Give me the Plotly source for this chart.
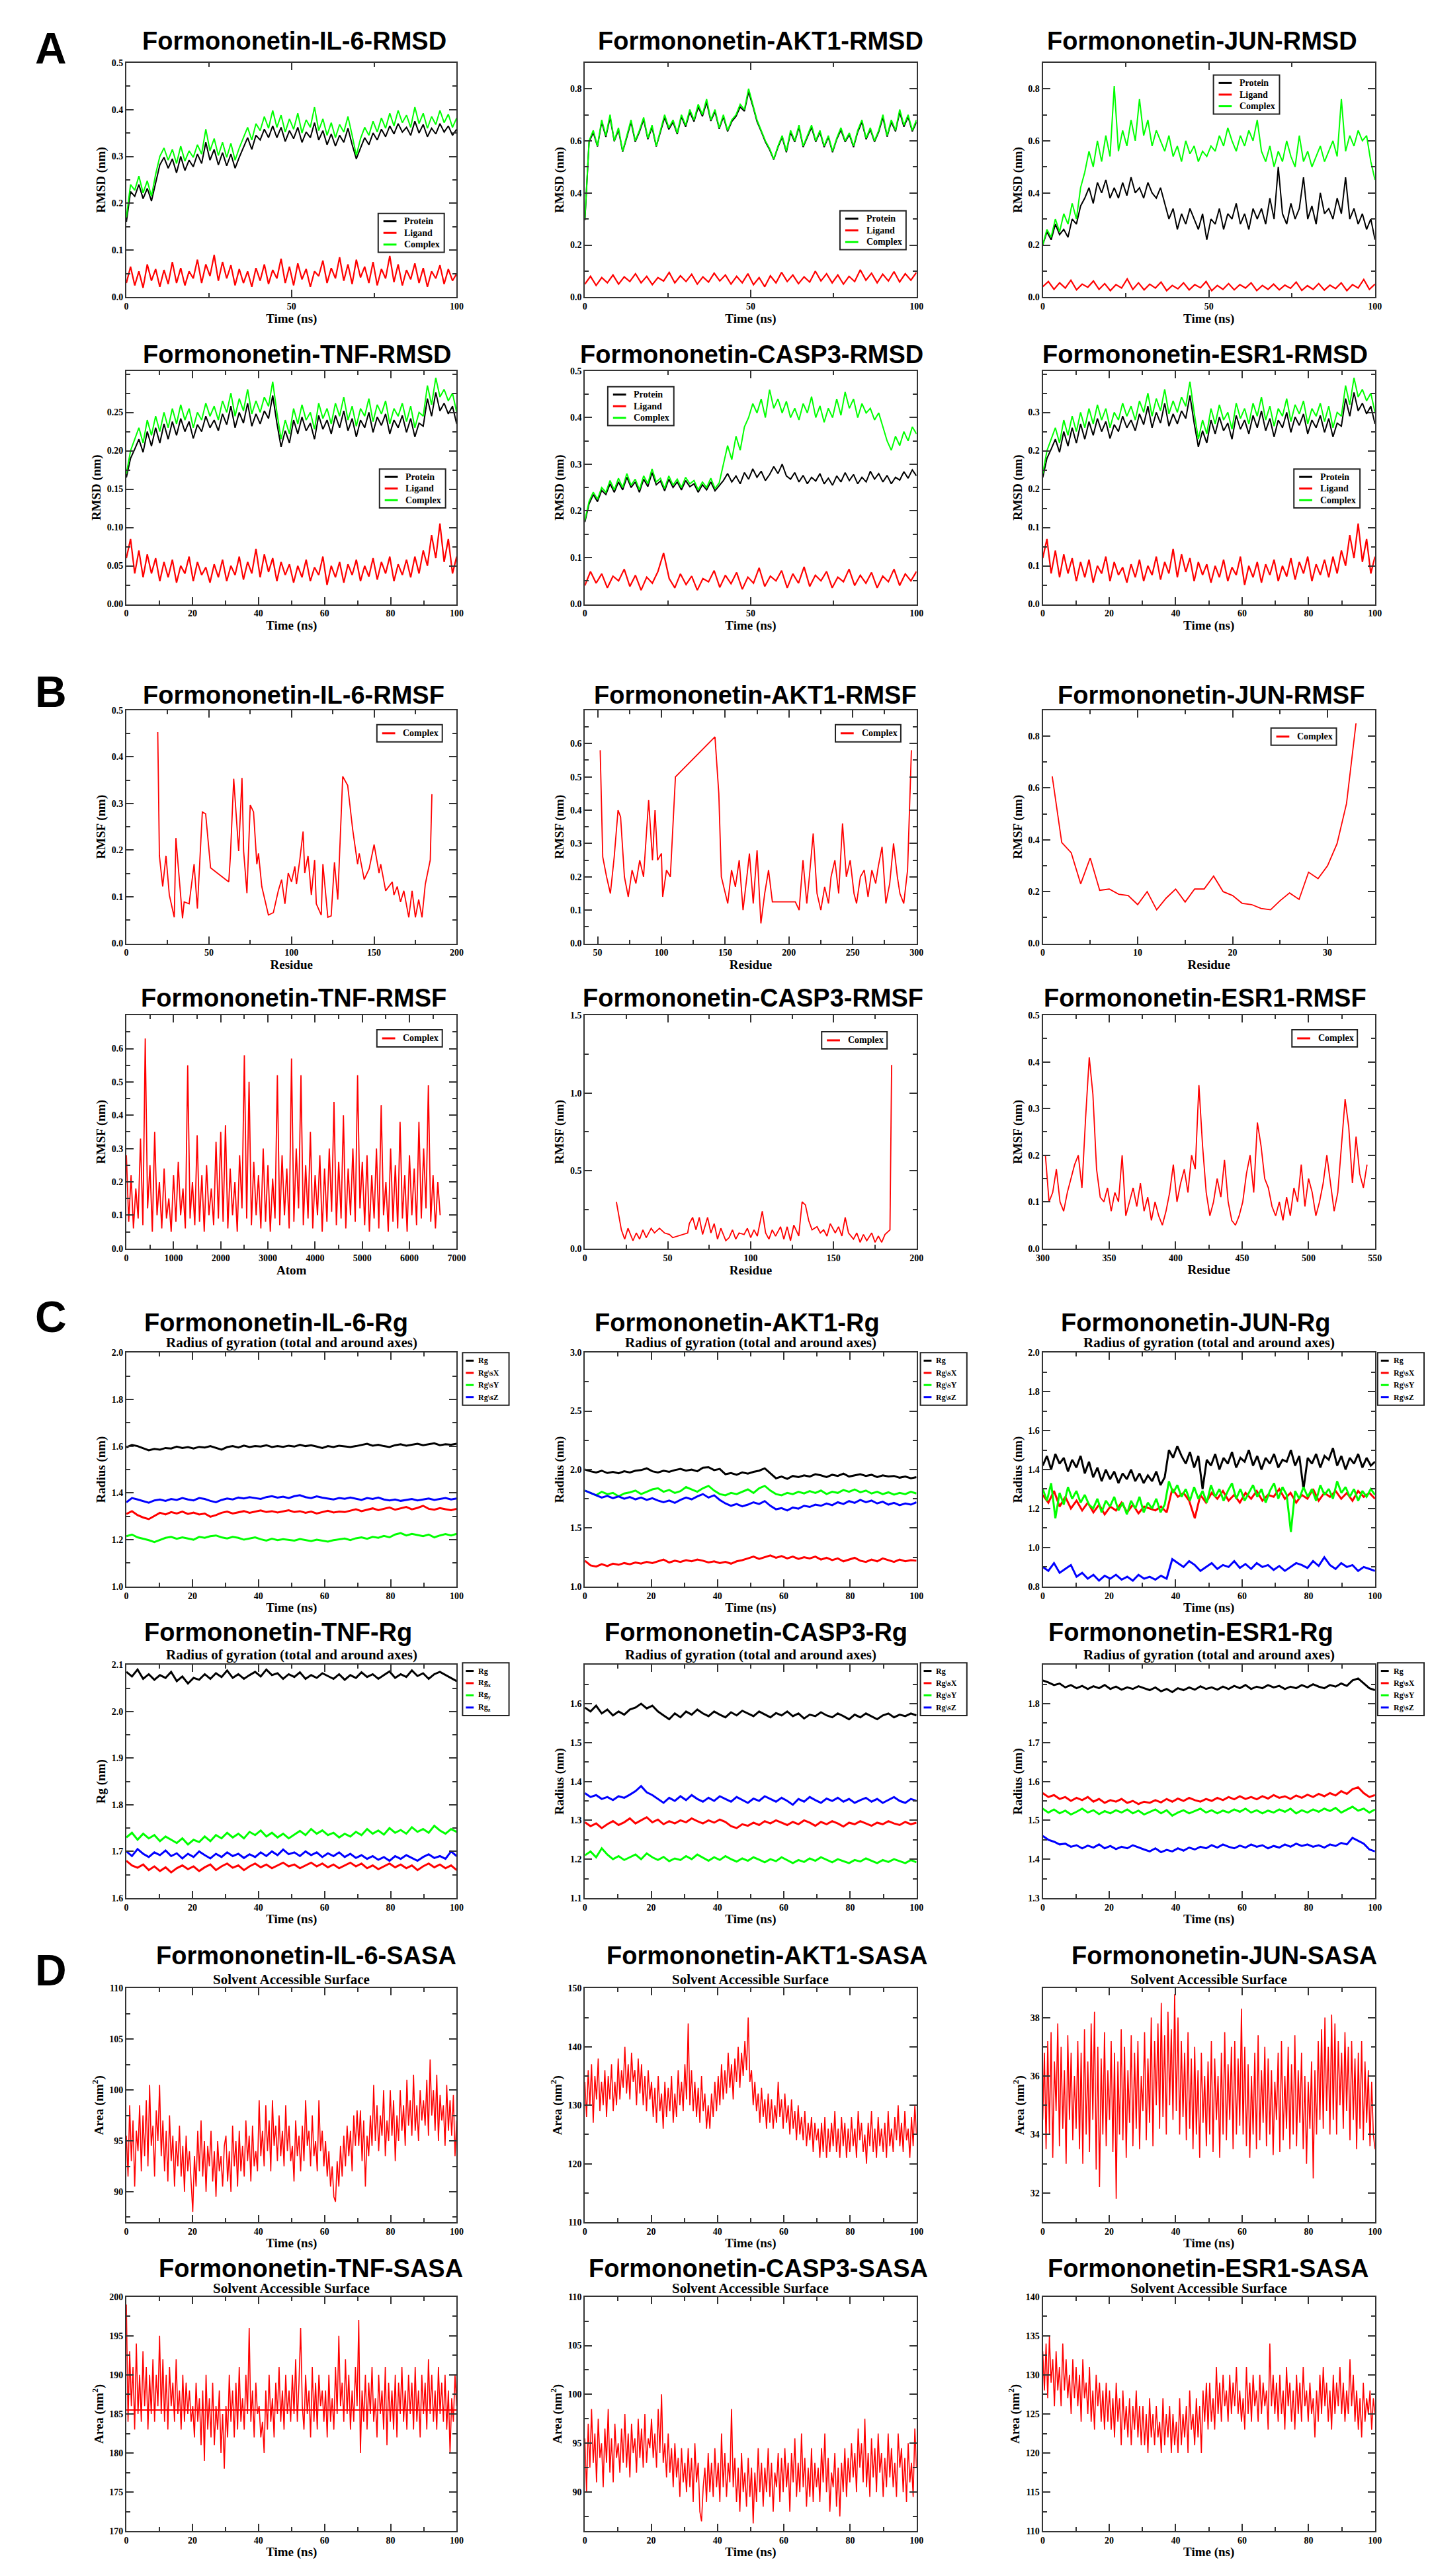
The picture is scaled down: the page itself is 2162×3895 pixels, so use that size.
import numpy as np
import plotly.graph_objects as go

W, H = 2162, 3895
SANS = "Liberation Sans"
SERIF = "Liberation Serif"
BLACK, RED, GREEN, BLUE = "#000000", "#ff0000", "#00ff00", "#0000ff"

# ======================= DATA =======================
# ---- A: RMSD, values in 1e-3 nm, evenly sampled over 0-100 ns ----
IL6_RMSD_PROTEIN = [160, 225, 215, 240, 210, 232, 205, 245, 282, 298, 275, 295, 265, 300, 270, 292, 278, 305, 285, 330,
                    292, 315, 282, 308, 280, 305, 275, 298, 318, 340, 315, 345, 335, 358, 340, 365, 340, 362, 332, 355,
                    338, 362, 330, 352, 340, 372, 335, 355, 325, 348, 322, 345, 330, 360, 325, 295, 318, 340, 325, 350,
                    335, 358, 342, 365, 348, 370, 352, 362, 345, 375, 350, 368, 342, 360, 348, 370, 352, 365, 345, 358]
IL6_RMSD_LIGAND = [30, 65, 25, 55, 20, 70, 35, 60, 22, 58, 28, 75, 30, 62, 25, 55, 40, 80, 30, 70,
                   45, 90, 35, 75, 40, 68, 25, 60, 30, 55, 22, 62, 35, 70, 28, 58, 40, 82, 30, 65,
                   25, 72, 38, 60, 22, 55, 45, 78, 30, 62, 40, 85, 35, 70, 28, 80, 42, 65, 30, 75,
                   25, 60, 40, 88, 32, 70, 25, 58, 38, 72, 30, 62, 22, 55, 40, 68, 28, 60, 35, 50]
IL6_RMSD_COMPLEX = [170, 240, 228, 258, 222, 248, 215, 262, 300, 318, 292, 315, 285, 322, 290, 312, 298, 325, 305, 358,
                    312, 338, 302, 330, 298, 328, 292, 318, 340, 362, 335, 370, 355, 385, 360, 398, 362, 388, 352, 380,
                    358, 392, 350, 378, 362, 405, 355, 380, 345, 372, 340, 368, 352, 385, 345, 302, 338, 362, 345, 375,
                    352, 382, 360, 392, 365, 398, 372, 388, 362, 405, 370, 392, 360, 385, 368, 398, 372, 390, 362, 382]

AKT1_RMSD_PROTEIN = [295, 595, 632, 578, 672, 615, 690, 598, 642, 558, 614, 672, 596, 634, 682, 606, 652, 578, 634, 690,
                     644, 672, 626, 692, 654, 710, 674, 730, 694, 748, 676, 712, 646, 692, 636, 674, 694, 730, 714, 788,
                     734, 674, 636, 596, 566, 528, 576, 614, 556, 632, 596, 652, 576, 614, 652, 596, 634, 576, 614, 556,
                     606, 642, 596, 624, 576, 634, 672, 606, 644, 596, 634, 690, 616, 672, 636, 710, 654, 692, 636, 672]
AKT1_RMSD_LIGAND = [50, 80, 45, 75, 55, 85, 50, 78, 60, 90, 55, 80, 48, 75, 62, 95, 55, 82, 60, 88,
                    50, 78, 58, 92, 62, 85, 50, 80, 55, 90, 48, 75, 40, 82, 55, 95, 60, 85, 52, 78,
                    58, 100, 62, 90, 55, 85, 50, 80, 60, 105, 65, 92, 55, 88, 62, 98, 58, 90, 65, 95]
AKT1_RMSD_COMPLEX = [300, 600, 640, 580, 680, 620, 700, 600, 650, 560, 620, 680, 600, 640, 690, 610, 660, 580, 640, 700,
                     650, 680, 630, 700, 660, 720, 680, 740, 700, 760, 680, 720, 650, 700, 640, 680, 700, 740, 720, 800,
                     740, 680, 640, 600, 570, 530, 580, 620, 560, 640, 600, 660, 580, 620, 660, 600, 640, 580, 620, 560,
                     610, 650, 600, 630, 580, 640, 680, 610, 650, 600, 640, 700, 620, 680, 640, 720, 660, 700, 640, 680]

JUN_RMSD_PROTEIN = [200, 250, 220, 280, 240, 260, 230, 300, 280, 350, 380, 420, 360, 440, 400, 450, 380,
                    420, 380, 440, 390, 460, 400, 420, 380, 440, 400, 380, 420,
                    360, 300, 340, 260, 320, 280, 340, 300, 260, 320, 220, 300,
                    280, 340, 260, 320, 300, 360, 280, 320, 260, 340, 300,
                    340, 280, 380, 300, 500, 320, 280, 360, 300, 340, 460, 300, 350, 280, 400, 320,
                    340, 300, 380, 320, 460, 300, 340, 280, 320, 260, 300, 220]
JUN_RMSD_LIGAND = [40, 60, 30, 55, 35, 65, 28, 50, 38, 62, 30, 52, 25, 48, 35, 70, 30, 55, 28, 50,
                   35, 58, 25, 45, 32, 55, 28, 48, 36, 60, 25, 45, 30, 52, 28, 48, 35, 55, 25, 45,
                   30, 50, 28, 46, 34, 58, 26, 44, 30, 52, 27, 46, 33, 55, 25, 48, 35, 68, 30, 50]
JUN_RMSD_COMPLEX = [200, 260, 230, 300, 250, 320, 280, 360, 300, 420, 480, 560, 500, 600, 520, 620, 540,
                    810, 560, 640, 580, 680, 600, 760, 620, 680, 580, 640, 600,
                    560, 620, 540, 580, 520, 600, 550, 580, 520, 560, 540, 580,
                    560, 620, 580, 650, 600, 560, 620, 580, 640, 600, 680,
                    560, 520, 580, 500, 560, 520, 600, 540, 500, 620, 520, 560, 500, 540, 580, 520,
                    560, 600, 540, 760, 560, 620, 580, 640, 600, 620, 520, 450]

TNF_RMSD_PROTEIN = [165, 190, 202, 215, 198, 225, 206, 230, 210, 235, 215, 238, 220, 242, 225, 238, 216, 234, 225, 245,
                    230, 240, 226, 248, 234, 258, 230, 250, 236, 262, 232, 248, 235, 252, 242, 272, 236, 205, 226, 210,
                    240, 222, 244, 226, 236, 215, 246, 228, 240, 222, 246, 230, 252, 226, 242, 218, 240, 230, 250, 224,
                    244, 233, 248, 222, 240, 230, 246, 224, 242, 218, 236, 232, 268, 245, 276, 252, 262, 248, 258, 235]
TNF_RMSD_LIGAND = [60, 85, 40, 70, 35, 65, 40, 60, 30, 55, 35, 58, 28, 50, 40, 62, 30, 55, 38, 48,
                   28, 52, 35, 58, 30, 50, 38, 62, 32, 55, 40, 72, 35, 65, 42, 60, 30, 55, 38, 52,
                   28, 50, 35, 58, 30, 48, 38, 62, 25, 50, 35, 55, 28, 52, 38, 58, 30, 50, 36, 60,
                   32, 55, 40, 62, 30, 52, 38, 58, 35, 62, 40, 70, 50, 90, 60, 105, 55, 85, 40, 62]
TNF_RMSD_COMPLEX = [170, 200, 215, 230, 210, 240, 220, 245, 225, 250, 230, 255, 235, 260, 240, 255, 230, 250, 240, 262,
                    245, 258, 240, 265, 250, 275, 245, 268, 252, 280, 248, 265, 250, 270, 258, 290, 250, 215, 240, 222,
                    255, 235, 260, 240, 250, 228, 262, 242, 255, 235, 262, 245, 270, 240, 258, 232, 255, 245, 268, 238,
                    260, 248, 265, 235, 255, 245, 262, 238, 258, 230, 250, 245, 285, 260, 295, 270, 280, 265, 275, 250]

CASP3_RMSD_PROTEIN = [176, 215, 235, 220, 244, 235, 258, 240, 262, 245, 272, 250, 262, 240, 268, 252, 282, 256, 264, 243,
                      268, 250, 262, 245, 265, 252, 258, 240, 256, 245, 262, 243, 254,
                      265, 280, 262, 275, 258, 282, 268, 290, 272, 285, 265, 278, 295, 280, 300, 275, 268, 282, 262, 276,
                      258, 272, 264, 280, 258, 270, 255, 275, 262, 282, 265, 278, 258, 272, 262, 285, 268, 280, 262, 276,
                      258, 272, 266, 284, 270, 288, 275]
CASP3_RMSD_LIGAND = [40, 70, 45, 65, 35, 60, 50, 75, 38, 62, 30, 58, 45, 70, 110, 55, 35, 65, 42, 60,
                     30, 55, 48, 72, 36, 62, 44, 68, 32, 58, 45, 78, 38, 60, 50, 72, 35, 65, 45, 80,
                     38, 62, 50, 70, 35, 58, 48, 75, 40, 62, 45, 68, 35, 60, 48, 75, 40, 65, 50, 70]
CASP3_RMSD_COMPLEX = [180, 220, 240, 225, 250,
                      240, 265, 245, 270, 250, 280, 255, 268, 245, 275, 258, 290, 262, 270, 248, 275, 255, 268, 250, 272,
                      258, 265, 245, 262, 250, 270, 248, 260,
                      300, 340, 310, 360, 330,
                      380, 400, 430, 410, 440, 400, 460, 420, 440, 410, 435, 400, 420, 395, 430, 410, 445, 400, 425, 390,
                      420, 400, 440, 405, 455, 420, 440, 400, 430, 410, 420, 395, 410,
                      380, 350, 330, 360, 340, 370, 350, 380, 365]

# ---- B: RMSF (nm) ----
IL6_RMSF_RES = [19, 20, 22, 24, 26, 29, 30, 34, 35, 38, 41, 43, 46, 48, 51, 62, 63, 65, 68, 70,
                71, 73, 75, 77, 79, 80, 82, 86, 89, 92, 94, 96, 98, 100, 102, 103, 105, 107, 108, 110,
                112, 114, 115, 118, 119, 122, 124, 126, 128, 131, 134, 137, 140, 141, 144, 147, 150, 153, 154, 157,
                161, 162, 164, 166, 168, 171, 173, 175, 177, 179, 181, 184, 185]
IL6_RMSF_VAL = [0.453, 0.188, 0.122, 0.188, 0.104, 0.056, 0.226, 0.054, 0.089, 0.085,
                0.17, 0.075, 0.282, 0.278, 0.162, 0.132, 0.188, 0.353, 0.198, 0.355,
                0.198, 0.108, 0.297, 0.282, 0.17, 0.193, 0.122, 0.061, 0.066, 0.113,
                0.137, 0.085, 0.151, 0.132, 0.165, 0.127, 0.179, 0.24, 0.151, 0.188,
                0.104, 0.179, 0.085, 0.061, 0.17, 0.056, 0.059, 0.174, 0.094, 0.358,
                0.339, 0.245, 0.17, 0.193, 0.137, 0.16, 0.212, 0.151, 0.17, 0.113,
                0.132, 0.104, 0.122, 0.089, 0.113, 0.056, 0.113, 0.056, 0.094, 0.056,
                0.127, 0.179, 0.32]

AKT1_RMSF_RES = [52, 54, 57, 60, 63, 66, 68, 71, 74, 77, 80, 83, 86, 90, 93, 95, 97, 100, 101, 104,
                 107, 111, 142, 145, 147, 150, 152, 155, 158, 161, 164, 167, 169, 172, 175, 178, 181, 184, 187,
                 205, 208, 211, 214, 216, 219, 222, 225, 228, 231, 233, 236, 239, 242, 245, 248, 251, 253, 256, 259,
                 262, 265, 268, 270, 273, 276, 279, 282, 285, 287, 290, 293, 296]
AKT1_RMSF_VAL = [0.58, 0.26, 0.20, 0.15, 0.26, 0.40, 0.38, 0.20, 0.14, 0.22, 0.18, 0.25, 0.20, 0.43, 0.25, 0.40, 0.25,
                 0.27, 0.14, 0.22, 0.20, 0.50, 0.62, 0.45, 0.20, 0.15, 0.12, 0.22, 0.17, 0.25, 0.10, 0.20, 0.27,
                 0.12, 0.28, 0.06, 0.15, 0.22, 0.125, 0.125, 0.10, 0.25, 0.12, 0.20, 0.33, 0.15, 0.10, 0.17, 0.12,
                 0.20, 0.25, 0.15, 0.36, 0.20, 0.25, 0.15, 0.12, 0.20, 0.22, 0.14, 0.22, 0.18, 0.23, 0.29, 0.12,
                 0.18, 0.30, 0.20, 0.15, 0.12, 0.22, 0.58]

JUN_RMSF_RES = list(range(1, 34))
JUN_RMSF_VAL = [0.645, 0.39, 0.35, 0.23, 0.33, 0.205, 0.21, 0.19, 0.185, 0.15, 0.20, 0.13, 0.175, 0.21, 0.16,
                0.21, 0.21, 0.26, 0.20, 0.185, 0.155, 0.15, 0.135, 0.13, 0.165, 0.195, 0.17, 0.275, 0.25, 0.30,
                0.385, 0.54, 0.85]

# TNF RMSF is per atom, every 50th atom, values in 1e-2 nm
TNF_RMSF_VAL = [28, 8, 22, 6, 18, 9, 33, 7, 63, 12, 25, 5, 35, 10, 20, 6, 24, 9, 15, 5,
                22, 8, 26, 10, 18, 6, 55, 9, 20, 7, 34, 8, 22, 5, 25, 10, 18, 7, 32, 9,
                35, 8, 37, 6, 24, 10, 20, 5, 28, 12, 58, 9, 50, 7, 26, 10, 22, 6, 30, 8,
                25, 5, 21, 9, 52, 7, 28, 10, 24, 6, 57, 8, 30, 12, 52, 7, 25, 9, 35, 6,
                22, 10, 28, 5, 24, 8, 30, 11, 44, 7, 26, 9, 40, 6, 24, 10, 30, 8, 52, 12,
                26, 7, 28, 5, 22, 9, 30, 6, 43, 10, 20, 5, 30, 8, 25, 6, 38, 9, 22, 5,
                28, 10, 24, 7, 38, 9, 30, 12, 49, 8, 22, 6, 20, 10]
TNF_RMSF_ATOM = [50 * i for i in range(len(TNF_RMSF_VAL))]

CASP3_RMSF_RES = [19, 22, 24, 26, 29, 31, 33, 35, 37, 40, 42, 45, 48, 51, 53, 62, 63, 65, 67, 69,
                  71, 74, 76, 78, 80, 82, 85, 87, 89, 91, 93, 96, 98, 100, 102, 104, 107, 109, 111, 113,
                  115, 118, 120, 122, 124, 126, 129, 131, 133, 135, 137, 140, 142, 144, 146, 148, 151, 153, 155, 157,
                  159, 162, 164, 166, 168, 170, 173, 175, 177, 179, 181, 184, 185]
CASP3_RMSF_VAL = [0.30, 0.12, 0.06, 0.13, 0.05, 0.10, 0.06, 0.12, 0.07, 0.13, 0.10, 0.13, 0.10, 0.09, 0.07,
                  0.10, 0.16, 0.20, 0.12, 0.20, 0.09, 0.20, 0.10, 0.16, 0.06, 0.13, 0.05, 0.07, 0.12, 0.06,
                  0.10, 0.09, 0.13, 0.07, 0.12, 0.08, 0.24, 0.10, 0.06, 0.12, 0.08, 0.14, 0.06, 0.14, 0.05,
                  0.15, 0.08, 0.30, 0.28, 0.18, 0.12, 0.14, 0.10, 0.12, 0.08, 0.16, 0.10, 0.14, 0.08, 0.20,
                  0.10, 0.06, 0.10, 0.04, 0.09, 0.05, 0.10, 0.04, 0.08, 0.04, 0.09, 0.12, 1.18]

ESR1_RMSF_FIRST, ESR1_RMSF_LAST = 302, 544
ESR1_RMSF_VAL = [0.20, 0.10, 0.12, 0.17, 0.10, 0.08, 0.12, 0.15, 0.18, 0.20, 0.13, 0.28, 0.41, 0.33, 0.17, 0.11,
                 0.10, 0.13, 0.08, 0.12, 0.10, 0.20, 0.07, 0.10, 0.13, 0.09, 0.14, 0.08, 0.11, 0.06, 0.10, 0.07,
                 0.05, 0.08, 0.12, 0.18, 0.10, 0.14, 0.17, 0.12, 0.20, 0.17, 0.35, 0.22, 0.12, 0.07, 0.10, 0.15,
                 0.11, 0.19, 0.10, 0.06, 0.05, 0.07, 0.10, 0.16, 0.20, 0.12, 0.27, 0.22, 0.15, 0.13, 0.09, 0.07,
                 0.10, 0.06, 0.11, 0.07, 0.13, 0.10, 0.18, 0.09, 0.15, 0.12, 0.07, 0.10, 0.14, 0.20, 0.14, 0.08,
                 0.12, 0.22, 0.32, 0.26, 0.14, 0.24, 0.16, 0.13, 0.18]

# ---- C: radius of gyration, values in 1e-3 nm, evenly sampled over 0-100 ns ----
IL6_RG = [1595, 1605, 1600, 1590, 1582, 1588, 1585, 1592, 1590, 1598, 1592, 1596, 1590, 1597, 1594, 1600, 1592, 1585, 1596, 1600,
          1594, 1602, 1596, 1600, 1598, 1604, 1596, 1600, 1597, 1602, 1598, 1606, 1600, 1604, 1598, 1592, 1600, 1596, 1602, 1598,
          1596, 1600, 1604, 1610, 1602, 1606, 1600, 1596, 1604, 1608, 1602, 1606, 1610, 1604, 1608, 1612, 1604, 1608, 1606, 1610]
IL6_RGX = [1310, 1322, 1305, 1295, 1288, 1302, 1315, 1308, 1318, 1312, 1320, 1310, 1316, 1308, 1312, 1298, 1305, 1315, 1320, 1312,
           1318, 1322, 1315, 1320, 1325, 1318, 1322, 1316, 1320, 1326, 1318, 1322, 1315, 1320, 1312, 1318, 1324, 1316, 1320, 1318,
           1325, 1330, 1322, 1328, 1334, 1326, 1332, 1338, 1328, 1335, 1340, 1330, 1336, 1345, 1332, 1328, 1335, 1330, 1326, 1332]
IL6_RGY = [1215, 1222, 1210, 1205, 1198, 1190, 1200, 1208, 1212, 1204, 1210, 1206, 1200, 1212, 1208, 1215, 1218, 1210, 1205, 1212,
           1208, 1200, 1205, 1210, 1202, 1196, 1204, 1198, 1202, 1200, 1196, 1203, 1198, 1194, 1200, 1195, 1192, 1198, 1202, 1205,
           1198, 1206, 1210, 1204, 1212, 1208, 1216, 1210, 1222, 1228, 1218, 1225, 1220, 1215, 1222, 1210, 1218, 1224, 1218, 1225]
IL6_RGZ = [1360, 1378, 1372, 1365, 1358, 1368, 1372, 1366, 1374, 1370, 1378, 1372, 1368, 1378, 1374, 1366, 1360, 1370, 1376, 1372,
           1380, 1376, 1382, 1378, 1374, 1382, 1386, 1380, 1384, 1378, 1386, 1390, 1382, 1378, 1385, 1380, 1376, 1372, 1378, 1375,
           1380, 1376, 1370, 1378, 1374, 1380, 1372, 1368, 1372, 1366, 1370, 1374, 1368, 1372, 1376, 1370, 1374, 1378, 1372, 1376]

AKT1_RG = [2000, 1985, 1975, 1990, 1970, 1980, 1968, 1985, 1975, 1990, 1995, 2010, 1985, 1975, 1990, 1980, 1995, 2005, 1990, 2000,
           1985, 2015, 2020, 1995, 2005, 1960, 1970, 1955, 1975, 1965, 1980, 1990, 2010, 1970, 1925, 1940, 1920, 1945, 1935, 1950,
           1940, 1960, 1950, 1935, 1955, 1945, 1965, 1940, 1950, 1960, 1945, 1955, 1935, 1950, 1940, 1945, 1930, 1940, 1925, 1935]
AKT1_RGX = [1220, 1180, 1170, 1190, 1175, 1195, 1185, 1200, 1190, 1205, 1195, 1210, 1200, 1215, 1230, 1205, 1220, 1210, 1225, 1215,
            1230, 1220, 1205, 1215, 1200, 1210, 1195, 1215, 1225, 1240, 1255, 1235, 1250, 1265, 1245, 1260, 1240, 1255, 1235, 1250,
            1240, 1255, 1230, 1245, 1225, 1240, 1215, 1230, 1245, 1220, 1210, 1230, 1215, 1240, 1225, 1210, 1230, 1215, 1225, 1220]
AKT1_RGY = [1820, 1800, 1780, 1810, 1790, 1800, 1770, 1795, 1805, 1820, 1790, 1810, 1830, 1840, 1810, 1825, 1800, 1815, 1850, 1830,
            1810, 1840, 1860, 1820, 1790, 1780, 1800, 1790, 1810, 1830, 1800, 1840, 1860, 1820, 1790, 1780, 1800, 1790, 1810, 1795,
            1815, 1800, 1820, 1790, 1810, 1800, 1825, 1810, 1830, 1805, 1820, 1795, 1810, 1790, 1805, 1785, 1800, 1790, 1810, 1795]
AKT1_RGZ = [1820, 1800, 1780, 1760, 1775, 1755, 1770, 1750, 1765, 1745, 1760, 1740, 1755, 1735, 1720, 1735, 1715, 1740, 1760, 1745,
            1770, 1790, 1760, 1780, 1740, 1710, 1690, 1705, 1685, 1700, 1720, 1705, 1730, 1690, 1660, 1670, 1650, 1675, 1665, 1690,
            1680, 1700, 1690, 1710, 1695, 1720, 1705, 1730, 1715, 1740, 1720, 1735, 1710, 1725, 1700, 1715, 1695, 1710, 1700, 1720]

JUN_RG = [1420, 1470, 1400, 1480, 1430, 1460, 1390, 1450, 1410, 1470, 1380, 1440,
          1360, 1410, 1340, 1400, 1350, 1390, 1330, 1380, 1350, 1400, 1340, 1380, 1330, 1370, 1340, 1390, 1320, 1360,
          1500, 1460, 1520, 1470,
          1430, 1490, 1410, 1470, 1300, 1450, 1420, 1480, 1400, 1460, 1430, 1490, 1410, 1460, 1440, 1500, 1420, 1470, 1400, 1460,
          1430, 1480, 1410, 1450, 1440, 1500, 1420, 1470, 1300, 1460, 1430, 1480, 1410, 1470, 1450, 1510, 1420, 1470, 1400, 1460,
          1430, 1480, 1410, 1460, 1420, 1440]
JUN_RGX = [1270, 1230, 1290, 1210, 1260, 1200, 1240, 1190, 1230, 1180, 1220, 1170, 1210, 1190, 1230, 1180, 1220, 1175, 1210, 1200,
           1190, 1210, 1180, 1300, 1260, 1280, 1240, 1150, 1270, 1230, 1280, 1250, 1290, 1240, 1270, 1230, 1280, 1250, 1290, 1240,
           1270, 1260, 1300, 1250, 1280, 1230, 1270, 1250, 1300, 1240, 1280, 1260, 1290, 1250, 1280, 1240, 1290, 1260, 1280, 1250]
JUN_RGY = [1300, 1240, 1330, 1150, 1280, 1220, 1310, 1250, 1290, 1230, 1270, 1220,
           1200, 1250, 1180, 1240, 1210, 1260, 1190, 1230, 1170, 1240, 1200, 1260, 1180, 1230, 1200, 1250, 1180, 1220,
           1340, 1280, 1320, 1260,
           1300, 1240, 1310, 1250, 1290, 1230, 1320, 1260, 1300, 1240, 1290, 1330, 1250, 1300, 1240, 1280, 1320, 1260, 1300, 1230,
           1290, 1330, 1250, 1310, 1270, 1080, 1290, 1250, 1310, 1260, 1300, 1240, 1320, 1270, 1300, 1250, 1340, 1280, 1310, 1260,
           1300, 1240, 1290, 1260, 1300, 1270]
JUN_RGZ = [900, 880, 920, 870, 890, 910, 850, 870, 840, 860, 830, 855, 840, 860, 835, 850, 830, 860, 840, 850,
           835, 855, 840, 940, 920, 900, 930, 910, 880, 900, 920, 890, 910, 900, 930, 895, 915, 890, 920, 900,
           910, 885, 905, 880, 900, 920, 910, 895, 930, 905, 950, 910, 890, 920, 900, 910, 880, 900, 890, 880]

TNF_RG = [2085, 2075, 2090, 2070, 2080, 2068, 2078, 2072, 2085, 2065, 2075, 2060, 2072, 2068, 2080, 2070, 2082, 2074, 2088, 2072,
          2080, 2070, 2078, 2085, 2075, 2090, 2078, 2082, 2070, 2080, 2074, 2084, 2070, 2078, 2072, 2082, 2076, 2070, 2080, 2068,
          2078, 2072, 2084, 2074, 2080, 2070, 2078, 2086, 2072, 2080, 2074, 2088, 2076, 2082, 2070, 2080, 2085, 2078, 2072, 2065]
TNF_RGX = [1680, 1670, 1665, 1672, 1660, 1668, 1658, 1666, 1655, 1664, 1670, 1662, 1668, 1658, 1666, 1672, 1660, 1668, 1674, 1665,
           1670, 1660, 1668, 1674, 1666, 1672, 1664, 1670, 1676, 1668, 1672, 1664, 1670, 1676, 1668, 1674, 1666, 1672, 1664, 1670,
           1676, 1668, 1674, 1664, 1670, 1662, 1668, 1674, 1666, 1672, 1664, 1670, 1660, 1668, 1674, 1666, 1672, 1664, 1670, 1660]
TNF_RGY = [1730, 1740, 1725, 1738, 1728, 1735, 1722, 1732, 1725, 1718, 1728, 1715, 1725, 1720, 1732, 1722, 1735, 1728, 1740, 1730,
           1738, 1728, 1742, 1735, 1745, 1732, 1740, 1730, 1738, 1728, 1736, 1744, 1735, 1748, 1738, 1745, 1735, 1740, 1730, 1738,
           1732, 1742, 1735, 1748, 1738, 1745, 1736, 1750, 1740, 1746, 1738, 1752, 1742, 1748, 1740, 1755, 1745, 1738, 1748, 1742]
TNF_RGZ = [1700, 1690, 1705, 1695, 1688, 1698, 1692, 1702, 1690, 1696, 1685, 1695, 1688, 1700, 1692, 1685, 1695, 1688, 1698, 1690,
           1695, 1686, 1694, 1688, 1698, 1690, 1700, 1692, 1704, 1694, 1698, 1690, 1700, 1692, 1698, 1688, 1696, 1690, 1698, 1688,
           1695, 1686, 1692, 1684, 1690, 1682, 1688, 1680, 1690, 1684, 1692, 1686, 1680, 1688, 1694, 1686, 1690, 1684, 1700, 1690]

CASP3_RG = [1590, 1580, 1595, 1575, 1585, 1570, 1580, 1572, 1585, 1590, 1600, 1588, 1595, 1580, 1570, 1560, 1575, 1565, 1580, 1572,
            1585, 1575, 1568, 1580, 1572, 1565, 1578, 1570, 1582, 1575, 1568, 1580, 1572, 1565, 1576, 1570, 1580, 1568, 1575, 1562,
            1572, 1568, 1578, 1570, 1565, 1575, 1568, 1560, 1572, 1565, 1575, 1568, 1560, 1570, 1575, 1565, 1572, 1568, 1575, 1570]
CASP3_RGX = [1295, 1285, 1292, 1280, 1290, 1298, 1288, 1295, 1305, 1292, 1300, 1308, 1295, 1302, 1290, 1298, 1292, 1300, 1295, 1305,
             1298, 1292, 1300, 1294, 1302, 1296, 1285, 1280, 1290, 1286, 1294, 1288, 1298, 1292, 1300, 1294, 1288, 1296, 1290, 1300,
             1294, 1286, 1296, 1290, 1298, 1292, 1284, 1294, 1290, 1298, 1292, 1286, 1294, 1290, 1298, 1292, 1288, 1296, 1290, 1294]
CASP3_RGY = [1210, 1220, 1205, 1228, 1212, 1200, 1208, 1198, 1205, 1212, 1200, 1215, 1205, 1198, 1206, 1195, 1202, 1198, 1208, 1200,
             1212, 1204, 1196, 1205, 1198, 1208, 1200, 1194, 1202, 1196, 1205, 1199, 1192, 1200, 1195, 1205, 1198, 1190, 1198, 1193,
             1202, 1196, 1205, 1198, 1192, 1200, 1195, 1190, 1198, 1194, 1202, 1196, 1190, 1198, 1193, 1200, 1195, 1190, 1198, 1192]
CASP3_RGZ = [1370, 1360, 1365, 1355, 1360, 1352, 1362, 1358, 1366, 1375, 1388, 1372, 1365, 1355, 1345, 1358, 1350, 1362, 1352, 1365,
             1355, 1348, 1358, 1350, 1362, 1355, 1348, 1360, 1352, 1345, 1356, 1350, 1362, 1355, 1348, 1358, 1350, 1340, 1355, 1348,
             1360, 1352, 1345, 1356, 1350, 1358, 1348, 1355, 1345, 1352, 1358, 1348, 1355, 1345, 1352, 1360, 1350, 1345, 1355, 1350]

ESR1_RG = [1860, 1855, 1848, 1852, 1842, 1848, 1840, 1846, 1838, 1845, 1840, 1848, 1838, 1844, 1836, 1842, 1838, 1845, 1840, 1835,
           1842, 1832, 1838, 1830, 1840, 1835, 1842, 1836, 1845, 1838, 1842, 1836, 1844, 1838, 1846, 1840, 1848, 1838, 1844, 1840,
           1848, 1842, 1846, 1838, 1844, 1840, 1848, 1842, 1850, 1844, 1840, 1848, 1844, 1852, 1846, 1860, 1865, 1852, 1840, 1835]
ESR1_RGX = [1570, 1560, 1565, 1555, 1560, 1550, 1558, 1552, 1560, 1548, 1555, 1545, 1552, 1548, 1555, 1545, 1550, 1542, 1548, 1545,
            1552, 1546, 1555, 1548, 1556, 1550, 1558, 1552, 1548, 1555, 1550, 1558, 1552, 1560, 1554, 1562, 1555, 1560, 1554, 1562,
            1556, 1565, 1558, 1562, 1555, 1564, 1558, 1566, 1560, 1568, 1562, 1570, 1564, 1575, 1568, 1580, 1585, 1570, 1560, 1565]
ESR1_RGY = [1530, 1520, 1528, 1518, 1525, 1515, 1522, 1530, 1520, 1526, 1516, 1524, 1518, 1526, 1520, 1528, 1518, 1525, 1515, 1522,
            1528, 1518, 1526, 1512, 1520, 1526, 1518, 1524, 1530, 1520, 1526, 1518, 1525, 1520, 1528, 1522, 1530, 1520, 1526, 1518,
            1525, 1520, 1528, 1522, 1530, 1518, 1526, 1520, 1528, 1522, 1530, 1524, 1532, 1520, 1528, 1535, 1525, 1530, 1520, 1528]
ESR1_RGZ = [1460, 1450, 1445, 1438, 1440, 1432, 1436, 1428, 1435, 1430, 1438, 1428, 1434, 1426, 1432, 1428, 1436, 1430, 1425, 1420,
            1428, 1418, 1424, 1420, 1428, 1422, 1430, 1425, 1432, 1428, 1436, 1430, 1438, 1432, 1428, 1435, 1430, 1438, 1432, 1436,
            1428, 1434, 1430, 1438, 1432, 1440, 1434, 1438, 1432, 1436, 1430, 1438, 1434, 1442, 1438, 1455, 1448, 1440, 1425, 1420]

# ---- D: SASA (nm^2), evenly sampled over 0-100 ns (200 samples) ----
IL6_SASA_X10 = [955, 915, 985, 930, 970, 905, 960, 940, 985, 920, 975, 935, 990, 925, 1005, 945, 965, 915, 980, 950,
                1005, 935, 970, 920, 960, 910, 975, 930, 955, 905, 950, 925, 965, 915, 945, 900, 955, 920, 940, 910,
                880, 935, 905, 960, 920, 970, 915, 950, 900, 945, 925, 960, 910, 940, 895, 950, 920, 935, 905, 945,
                955, 910, 940, 900, 965, 925, 950, 905, 960, 920, 945, 915, 970, 930, 955, 910, 965, 925, 940, 920,
                990, 935, 960, 925, 985, 940, 970, 920, 990, 945, 965, 930, 975, 935, 960, 925, 985, 940, 965, 930,
                945, 910, 970, 935, 955, 920, 965, 930, 990, 945, 960, 925, 975, 935, 950, 920, 990, 940, 960, 925,
                950, 915, 940, 905, 925, 895, 890, 930, 905, 945, 915, 955, 925, 965, 935, 960, 920, 975, 945, 980,
                945, 980, 930, 970, 905, 955, 935, 975, 945, 1005, 950, 985, 940, 975, 955, 1000, 935, 970, 950, 1000,
                955, 990, 930, 975, 950, 1000, 960, 985, 945, 1010, 965, 990, 955, 1015, 960, 985, 950, 1000, 970, 990,
                965, 1010, 955, 1030, 975, 1000, 960, 1015, 950, 995, 970, 985, 945, 1005, 960, 990, 955, 995, 935, 970]
AKT1_SASA = [134, 128, 136, 130, 137, 127, 135, 131, 138, 129, 134, 130, 136, 128, 135, 131, 137, 129, 134, 130,
             138, 131, 136, 133, 140, 132, 137, 131, 139, 134, 136, 130, 138, 132, 137, 130, 135, 129, 136, 131,
             134, 128, 133, 127, 135, 129, 132, 126, 134, 128, 133, 129, 135, 127, 132, 128, 136, 130, 134, 129,
             137, 131, 144, 130, 136, 129, 134, 128, 133, 127, 135, 129, 132, 126, 130, 126, 132, 128, 134, 129,
             135, 130, 137, 131, 136, 132, 139, 133, 137, 131, 138, 134, 140, 133, 139, 135, 141, 136, 145, 134,
             136, 130, 134, 129, 132, 127, 133, 128, 131, 126, 132, 127, 131, 126, 130, 127, 134, 128, 131, 126,
             132, 127, 130, 125, 131, 126, 129, 124, 130, 125, 128, 124, 129, 123, 127, 124, 128, 122, 127, 124,
             126, 121, 127, 122, 128, 121, 126, 122, 127, 123, 129, 122, 126, 121, 128, 123, 127, 121, 126, 122,
             128, 123, 126, 121, 129, 124, 127, 122, 125, 120, 127, 123, 129, 122, 126, 121, 128, 123, 126, 122,
             127, 121, 129, 123, 126, 122, 128, 124, 130, 123, 127, 122, 129, 124, 126, 121, 128, 123, 130, 125]
JUN_SASA_X10 = [345, 368, 335, 372, 340, 375, 332, 365, 348, 378, 336, 370, 342, 362, 330, 374, 345, 368, 338, 360,
                342, 372, 335, 368, 330, 376, 340, 365, 334, 378, 345, 382, 328, 370, 322, 366, 340, 375, 336, 362,
                345, 372, 334, 368, 318, 365, 340, 376, 338, 370, 332, 362, 344, 374, 336, 368, 342, 372, 335, 360,
                348, 375, 338, 366, 344, 380, 336, 372, 350, 378, 342, 385, 346, 374, 340, 382, 350, 376, 345, 388,
                348, 380, 340, 372, 346, 368, 338, 375, 342, 366, 335, 370, 340, 362, 332, 368, 344, 360, 336, 365,
                340, 372, 334, 366, 345, 360, 332, 368, 340, 375, 338, 364, 345, 370, 335, 372, 340, 366, 343, 383,
                340, 370, 336, 364, 332, 360, 340, 368, 335, 374, 338, 362, 344, 370, 336, 366, 340, 362, 333, 358,
                345, 368, 334, 372, 338, 360, 342, 370, 335, 364, 340, 374, 336, 362, 344, 368, 335, 360, 330, 358,
                342, 365, 325, 362, 340, 372, 345, 376, 342, 380, 348, 370, 340, 381, 345, 378, 340, 372, 350, 368,
                342, 375, 348, 370, 338, 372, 345, 366, 335, 368, 342, 372, 338, 365, 344, 362, 336, 358, 340, 335]
TNF_SASA = [199, 184, 193, 186, 191, 183, 194, 185, 190, 184, 193, 186, 191, 183, 190, 185, 192, 184, 190, 186,
            195, 185, 192, 184, 190, 183, 191, 186, 189, 184, 192, 185, 188, 183, 190, 184, 189, 185, 188, 184,
            186, 182, 189, 184, 187, 181, 188, 179, 190, 183, 187, 182, 189, 181, 186, 183, 188, 180, 185, 178,
            186, 182, 190, 184, 188, 182, 189, 183, 191, 184, 187, 183, 190, 185, 196, 184, 188, 182, 189, 185,
            186, 182, 184, 180, 188, 183, 190, 184, 187, 182, 189, 185, 191, 184, 188, 183, 190, 185, 188, 184,
            190, 185, 192, 184, 189, 196, 186, 183, 190, 185, 188, 182, 191, 184, 189, 183, 190, 186, 188, 184,
            188, 182, 190, 184, 187, 183, 191, 185, 195, 186, 189, 184, 192, 185, 190, 183, 188, 184, 191, 186,
            197, 180, 188, 184, 190, 183, 189, 185, 191, 184, 187, 182, 190, 185, 188, 183, 191, 181, 189, 184,
            188, 183, 190, 182, 189, 185, 191, 184, 188, 183, 190, 185, 189, 183, 191, 184, 188, 182, 190, 185,
            189, 183, 192, 185, 190, 184, 188, 183, 191, 185, 189, 184, 190, 183, 188, 180, 187, 184, 190, 186]
TNF_SASA_LEVEL = 185.5
CASP3_SASA_X10 = [955, 900, 970, 925, 985, 930, 960, 910, 975, 935, 950, 905, 965, 930, 985, 920, 955, 910, 970, 935,
                  950, 920, 965, 930, 980, 925, 960, 915, 970, 940, 955, 920, 975, 935, 965, 925, 980, 930, 955, 945,
                  975, 935, 960, 925, 985, 940, 1000, 930, 950, 915, 960, 920, 945, 905, 950, 915, 935, 895, 945, 910,
                  930, 900, 945, 905, 935, 890, 950, 910, 930, 880, 870, 905, 925, 890, 940, 900, 930, 895, 945, 905,
                  930, 890, 960, 905, 940, 895, 930, 910, 985, 905, 935, 890, 925, 880, 940, 900, 920, 885, 935, 895,
                  925, 868, 920, 890, 945, 900, 930, 885, 925, 900, 945, 895, 930, 880, 920, 905, 940, 890, 935, 900,
                  945, 905, 930, 880, 940, 910, 955, 895, 930, 900, 960, 905, 935, 885, 925, 895, 945, 890, 930, 905,
                  925, 890, 945, 910, 960, 900, 935, 880, 920, 905, 940, 885, 925, 875, 930, 900, 945, 895, 935, 910,
                  950, 915, 940, 900, 965, 925, 950, 910, 975, 905, 940, 895, 955, 915, 945, 900, 960, 920, 940, 895,
                  935, 905, 960, 915, 945, 905, 930, 895, 960, 925, 945, 900, 935, 890, 950, 910, 930, 895, 965, 925]
ESR1_SASA = [133, 128, 134, 127, 135, 129, 132, 126, 133, 128, 131, 126, 134, 128, 132, 127, 130, 125, 132, 127,
             131, 126, 130, 124, 132, 127, 129, 125, 131, 124, 128, 123, 130, 126, 129, 124, 128, 123, 129, 124,
             128, 123, 127, 122, 129, 124, 127, 121, 128, 123, 126, 122, 127, 121, 126, 123, 128, 122, 126, 121,
             126, 121, 125, 120, 127, 122, 125, 121, 126, 122, 124, 120, 127, 121, 125, 122, 126, 120, 125, 121,
             124, 120, 127, 121, 125, 122, 126, 120, 128, 123, 125, 121, 127, 122, 126, 120, 128, 124, 129, 123,
             129, 124, 127, 123, 131, 125, 129, 124, 130, 126, 128, 124, 130, 125, 129, 126, 131, 125, 128, 124,
             127, 123, 131, 125, 129, 124, 130, 126, 128, 124, 130, 125, 129, 126, 128, 123, 134, 126, 130, 125,
             129, 124, 130, 125, 128, 123, 131, 126, 129, 124, 128, 123, 130, 125, 129, 124, 131, 126, 128, 124,
             129, 125, 127, 122, 128, 124, 130, 125, 131, 126, 129, 124, 128, 123, 130, 125, 129, 126, 131, 125,
             129, 124, 128, 125, 132, 126, 130, 124, 128, 123, 127, 122, 129, 124, 127, 125, 128, 123, 127, 125]

# ======================= LAYOUT =======================
COLS = [(175, 680), (876, 1383), (1576, 2084)]
ROW_Y = {"A1": (80, 436), "A2": (548, 902), "B1": (1063, 1417), "B2": (1526, 1880),
         "C1": (2038, 2393), "C2": (2512, 2866), "D1": (3003, 3358), "D2": (3471, 3827)}
TITLE_Y = {"A1": 47, "A2": 523, "B1": 1040, "B2": 1500, "C1": 1993, "C2": 2462, "D1": 2953, "D2": 3428}
SUB_Y = {"C1": 2023, "C2": 2497, "D1": 2990, "D2": 3458}
LETTERS = [("A", 60, 58), ("B", 60, 1035), ("C", 60, 1984), ("D", 60, 2975)]
# legend box styles: (width, height, sample x0, sample x1, text x, font size)
LEG_STYLE = {"A": (101, 59, 8, 28, 38, 14), "B": (100, 26, 8, 28, 38, 14), "C": (71, 80, 5, 17, 22, 12)}

fig = go.Figure()
layout = {}
annos = []
shapes = []
state = {"ax": 0}
AXC = "#333333"


def T(v):
    return np.linspace(0, 100, len(v))


def axis_cfg(rng, dtick=None, minor=None, fmt=None, tickvals=None, ticktext=None):
    d = dict(range=rng, showline=True, linecolor=AXC, linewidth=2, mirror="ticks",
             ticks="inside", ticklen=11, tickwidth=2, tickcolor=AXC,
             showgrid=False, zeroline=False,
             tickfont=dict(family=SERIF, size=14, color="black", weight="bold"))
    if tickvals is not None:
        d.update(tickmode="array", tickvals=tickvals)
        if ticktext is not None:
            d["ticktext"] = ticktext
    elif dtick is not None:
        d.update(tickmode="linear", tick0=0, dtick=dtick)
    if fmt:
        d["tickformat"] = fmt
    if minor:
        d["minor"] = dict(ticks="inside", ticklen=6, tickwidth=1.5, tickcolor=AXC,
                          dtick=minor, tick0=0, showgrid=False)
    return d


def draw_legend(lx, ly, style, entries):
    w, h, s0, s1, tx, fs = LEG_STYLE[style]
    shapes.append(dict(type="rect", xref="paper", yref="paper", x0=lx / W, x1=(lx + w) / W,
                       y0=1 - (ly + h) / H, y1=1 - ly / H, line=dict(color="#222222", width=2),
                       fillcolor="white", layer="above"))
    ih = (h - 6) / len(entries)
    for i, (name, color) in enumerate(entries):
        yc = ly + 3 + ih * (i + 0.5)
        shapes.append(dict(type="line", xref="paper", yref="paper", x0=(lx + s0) / W, x1=(lx + s1) / W,
                           y0=1 - yc / H, y1=1 - yc / H, line=dict(color=color, width=3), layer="above"))
        annos.append(dict(text="<b>%s</b>" % name, x=(lx + tx) / W, y=1 - yc / H, xref="paper", yref="paper",
                          xanchor="left", yanchor="middle", showarrow=False,
                          font=dict(family=SERIF, size=fs, color="black")))


def add_panel(row, col, title, tcx, series, xa, ya, xlabel, ylabel, legend=None, subtitle=None):
    state["ax"] += 1
    k = state["ax"]
    sfx = "" if k == 1 else str(k)
    x0, x1 = COLS[col]
    top, bot = ROW_Y[row]
    for name, xs, ys, color, width, inleg in series:
        fig.add_trace(go.Scatter(x=np.asarray(xs, dtype=float).tolist(), y=np.asarray(ys, dtype=float).tolist(),
                                 mode="lines", name=name, line=dict(color=color, width=width),
                                 xaxis="x" + sfx, yaxis="y" + sfx, hoverinfo="skip", showlegend=False))
    if legend is not None:
        draw_legend(legend[0], legend[1], legend[2], [(s[0], s[3]) for s in series if s[5]])
    xa.update(domain=[x0 / W, x1 / W], anchor="y" + sfx,
              title=dict(text="<b>%s</b>" % xlabel, font=dict(family=SERIF, size=19, color="black"), standoff=4))
    ya.update(domain=[1 - bot / H, 1 - top / H], anchor="x" + sfx,
              title=dict(text="<b>%s</b>" % ylabel, font=dict(family=SERIF, size=19, color="black"), standoff=4))
    layout["xaxis" + sfx] = xa
    layout["yaxis" + sfx] = ya
    annos.append(dict(text="<b>%s</b>" % title, x=tcx / W, y=1 - TITLE_Y[row] / H, xref="paper", yref="paper",
                      xanchor="center", yanchor="middle", showarrow=False,
                      font=dict(family=SANS, size=38, color="black")))
    if subtitle:
        annos.append(dict(text="<b>%s</b>" % subtitle, x=(x0 + x1) / 2 / W, y=1 - SUB_Y[row] / H,
                          xref="paper", yref="paper", xanchor="center", yanchor="middle", showarrow=False,
                          font=dict(family=SERIF, size=21, color="black")))


def rmsd(prot, lig, comp):
    return [("Protein", T(prot), np.array(prot) / 1000, BLACK, 2, True),
            ("Ligand", T(lig), np.array(lig) / 1000, RED, 2.2, True),
            ("Complex", T(comp), np.array(comp) / 1000, GREEN, 2, True)]


def rg(a, b, c, d, names=("Rg", "Rg\\sX", "Rg\\sY", "Rg\\sZ")):
    return [(names[0], T(a), np.array(a) / 1000, BLACK, 3, True),
            (names[1], T(b), np.array(b) / 1000, RED, 3, True),
            (names[2], T(c), np.array(c) / 1000, GREEN, 3, True),
            (names[3], T(d), np.array(d) / 1000, BLUE, 3, True)]


X50 = lambda: axis_cfg([0, 100], 50, 25)
X20 = lambda: axis_cfg([0, 100], 20, 10)
TIME = "Time (ns)"

# ---- A ----
add_panel("A1", 0, "Formononetin-IL-6-RMSD", 432, rmsd(IL6_RMSD_PROTEIN, IL6_RMSD_LIGAND, IL6_RMSD_COMPLEX),
          X50(), axis_cfg([0, 0.5], 0.1, 0.05, ".1f"), TIME, "RMSD (nm)", (560, 309, "A"))
add_panel("A1", 1, "Formononetin-AKT1-RMSD", 1145, rmsd(AKT1_RMSD_PROTEIN, AKT1_RMSD_LIGAND, AKT1_RMSD_COMPLEX),
          X50(), axis_cfg([0, 0.9], 0.2, 0.1, ".1f"), TIME, "RMSD (nm)", (1266, 305, "A"))
add_panel("A1", 2, "Formononetin-JUN-RMSD", 1820, rmsd(JUN_RMSD_PROTEIN, JUN_RMSD_LIGAND, JUN_RMSD_COMPLEX),
          X50(), axis_cfg([0, 0.9], 0.2, 0.1, ".1f"), TIME, "RMSD (nm)", (1837, 99, "A"))
add_panel("A2", 0, "Formononetin-TNF-RMSD", 436, rmsd(TNF_RMSD_PROTEIN, TNF_RMSD_LIGAND, TNF_RMSD_COMPLEX),
          X20(), axis_cfg([0, 0.304], minor=0.025, fmt=".2f", tickvals=[0, 0.05, 0.1, 0.15, 0.2, 0.25]),
          TIME, "RMSD (nm)", (562, 697, "A"))
add_panel("A2", 1, "Formononetin-CASP3-RMSD", 1131, rmsd(CASP3_RMSD_PROTEIN, CASP3_RMSD_LIGAND, CASP3_RMSD_COMPLEX),
          X50(), axis_cfg([0, 0.5], 0.1, 0.05, ".1f"), TIME, "RMSD (nm)", (911, 572, "A"))
# the ESR1 RMSD panel shows the same traces as the TNF panel
add_panel("A2", 2, "Formononetin-ESR1-RMSD", 1824, rmsd(TNF_RMSD_PROTEIN, TNF_RMSD_LIGAND, TNF_RMSD_COMPLEX),
          X20(), axis_cfg([0, 0.304], minor=0.025, tickvals=[0, 0.05, 0.1, 0.15, 0.2, 0.25],
                          ticktext=["0.0", "0.1", "0.1", "0.2", "0.2", "0.3"]),
          TIME, "RMSD (nm)", (1960, 697, "A"))

# ---- B ----
cpx = lambda xs, ys, w=1.8: [("Complex", xs, ys, RED, w, True)]
add_panel("B1", 0, "Formononetin-IL-6-RMSF", 431, cpx(IL6_RMSF_RES, IL6_RMSF_VAL),
          axis_cfg([0, 200], 50, 25), axis_cfg([0, 0.5], 0.1, 0.05, ".1f"), "Residue", "RMSF (nm)", (558, 1085, "B"))
add_panel("B1", 1, "Formononetin-AKT1-RMSF", 1137, cpx(AKT1_RMSF_RES, AKT1_RMSF_VAL),
          axis_cfg([40, 300], 50, 25), axis_cfg([0, 0.7], minor=0.05, fmt=".1f", tickvals=[0, .1, .2, .3, .4, .5, .6]),
          "Residue", "RMSF (nm)", (1259, 1085, "B"))
add_panel("B1", 2, "Formononetin-JUN-RMSF", 1833, cpx(JUN_RMSF_RES, JUN_RMSF_VAL),
          axis_cfg([0, 35], 10, 5), axis_cfg([0, 0.9], 0.2, 0.1, ".1f"), "Residue", "RMSF (nm)", (1925, 1090, "B"))
add_panel("B2", 0, "Formononetin-TNF-RMSF", 431, cpx(TNF_RMSF_ATOM, np.array(TNF_RMSF_VAL) / 100, 1.8),
          axis_cfg([0, 7000], 1000, 500), axis_cfg([0, 0.7], minor=0.05, fmt=".1f", tickvals=[0, .1, .2, .3, .4, .5, .6]),
          "Atom", "RMSF (nm)", (558, 1548, "B"))
add_panel("B2", 1, "Formononetin-CASP3-RMSF", 1133, cpx(CASP3_RMSF_RES, CASP3_RMSF_VAL),
          axis_cfg([0, 200], 50, 25), axis_cfg([0, 1.5], 0.5, 0.25, ".1f"), "Residue", "RMSF (nm)", (1238, 1551, "B"))
add_panel("B2", 2, "Formononetin-ESR1-RMSF", 1824,
          cpx(np.linspace(ESR1_RMSF_FIRST, ESR1_RMSF_LAST, len(ESR1_RMSF_VAL)), ESR1_RMSF_VAL),
          axis_cfg([300, 550], 50, 25), axis_cfg([0, 0.5], 0.1, 0.05, ".1f"), "Residue", "RMSF (nm)", (1957, 1548, "B"))

# ---- C ----
SUBC = "Radius of gyration (total and around axes)"
add_panel("C1", 0, "Formononetin-IL-6-Rg", 404, rg(IL6_RG, IL6_RGX, IL6_RGY, IL6_RGZ),
          X20(), axis_cfg([1.0, 2.0], 0.2, 0.1, ".1f"), TIME, "Radius (nm)", (689, 2038, "C"), SUBC)
add_panel("C1", 1, "Formononetin-AKT1-Rg", 1109, rg(AKT1_RG, AKT1_RGX, AKT1_RGY, AKT1_RGZ),
          X20(), axis_cfg([1.0, 3.0], 0.5, 0.25, ".1f"), TIME, "Radius (nm)", (1389, 2038, "C"), SUBC)
add_panel("C1", 2, "Formononetin-JUN-Rg", 1810, rg(JUN_RG, JUN_RGX, JUN_RGY, JUN_RGZ),
          X20(), axis_cfg([0.8, 2.0], 0.2, 0.1, ".1f"), TIME, "Radius (nm)", (2088, 2038, "C"), SUBC)
add_panel("C2", 0, "Formononetin-TNF-Rg", 407,
          rg(TNF_RG, TNF_RGX, TNF_RGY, TNF_RGZ, ("Rg", "Rg<sub>x</sub>", "Rg<sub>y</sub>", "Rg<sub>z</sub>")),
          X20(), axis_cfg([1.6, 2.1], 0.1, 0.05, ".1f"), TIME, "Rg (nm)", (689, 2509, "C"), SUBC)
add_panel("C2", 1, "Formononetin-CASP3-Rg", 1138, rg(CASP3_RG, CASP3_RGX, CASP3_RGY, CASP3_RGZ),
          X20(), axis_cfg([1.1, 1.7], minor=0.05, fmt=".1f", tickvals=[1.1, 1.2, 1.3, 1.4, 1.5, 1.6]),
          TIME, "Radius (nm)", (1389, 2509, "C"), SUBC)
add_panel("C2", 2, "Formononetin-ESR1-Rg", 1803, rg(ESR1_RG, ESR1_RGX, ESR1_RGY, ESR1_RGZ),
          X20(), axis_cfg([1.3, 1.9], minor=0.05, fmt=".1f", tickvals=[1.3, 1.4, 1.5, 1.6, 1.7, 1.8]),
          TIME, "Radius (nm)", (2088, 2509, "C"), SUBC)

# ---- D ----
SUBD = "Solvent Accessible Surface"
AREA = "Area (nm<sup>2</sup>)"
sasa = lambda v: [("SASA", T(v), v, RED, 1.6, False)]
add_panel("D1", 0, "Formononetin-IL-6-SASA", 450, sasa(np.array(IL6_SASA_X10) / 10),
          X20(), axis_cfg([87, 110], minor=2.5, tickvals=[90, 95, 100, 105, 110]), TIME, AREA, None, SUBD)
add_panel("D1", 1, "Formononetin-AKT1-SASA", 1155, sasa(np.array(AKT1_SASA, dtype=float)),
          X20(), axis_cfg([110, 150], 10, 5), TIME, AREA, None, SUBD)
add_panel("D1", 2, "Formononetin-JUN-SASA", 1854, sasa(np.array(JUN_SASA_X10) / 10),
          X20(), axis_cfg([31, 39], minor=1, tickvals=[32, 34, 36, 38]), TIME, AREA, None, SUBD)
add_panel("D2", 0, "Formononetin-TNF-SASA", 457,
          sasa(np.array(TNF_SASA, dtype=float)) + [("level", [0, 100], [TNF_SASA_LEVEL] * 2, RED, 2, False)],
          X20(), axis_cfg([170, 200], 5, 2.5), TIME, AREA, None, SUBD)
add_panel("D2", 1, "Formononetin-CASP3-SASA", 1141, sasa(np.array(CASP3_SASA_X10) / 10),
          X20(), axis_cfg([86, 110], minor=2.5, tickvals=[90, 95, 100, 105, 110]), TIME, AREA, None, SUBD)
add_panel("D2", 2, "Formononetin-ESR1-SASA", 1829, sasa(np.array(ESR1_SASA, dtype=float)),
          X20(), axis_cfg([110, 140], 5, 2.5), TIME, AREA, None, SUBD)

for letter, lx, ly in LETTERS:
    annos.append(dict(text="<b>%s</b>" % letter, x=lx / W, y=1 - ly / H, xref="paper", yref="paper",
                      xanchor="center", yanchor="middle", showarrow=False,
                      font=dict(family=SANS, size=66, color="black")))

fig.update_layout(**layout)
fig.update_layout(annotations=annos, shapes=shapes, width=W, height=H, margin=dict(l=0, r=0, t=0, b=0),
                  paper_bgcolor="white", plot_bgcolor="white", showlegend=False)
fig.write_html("out.html")
